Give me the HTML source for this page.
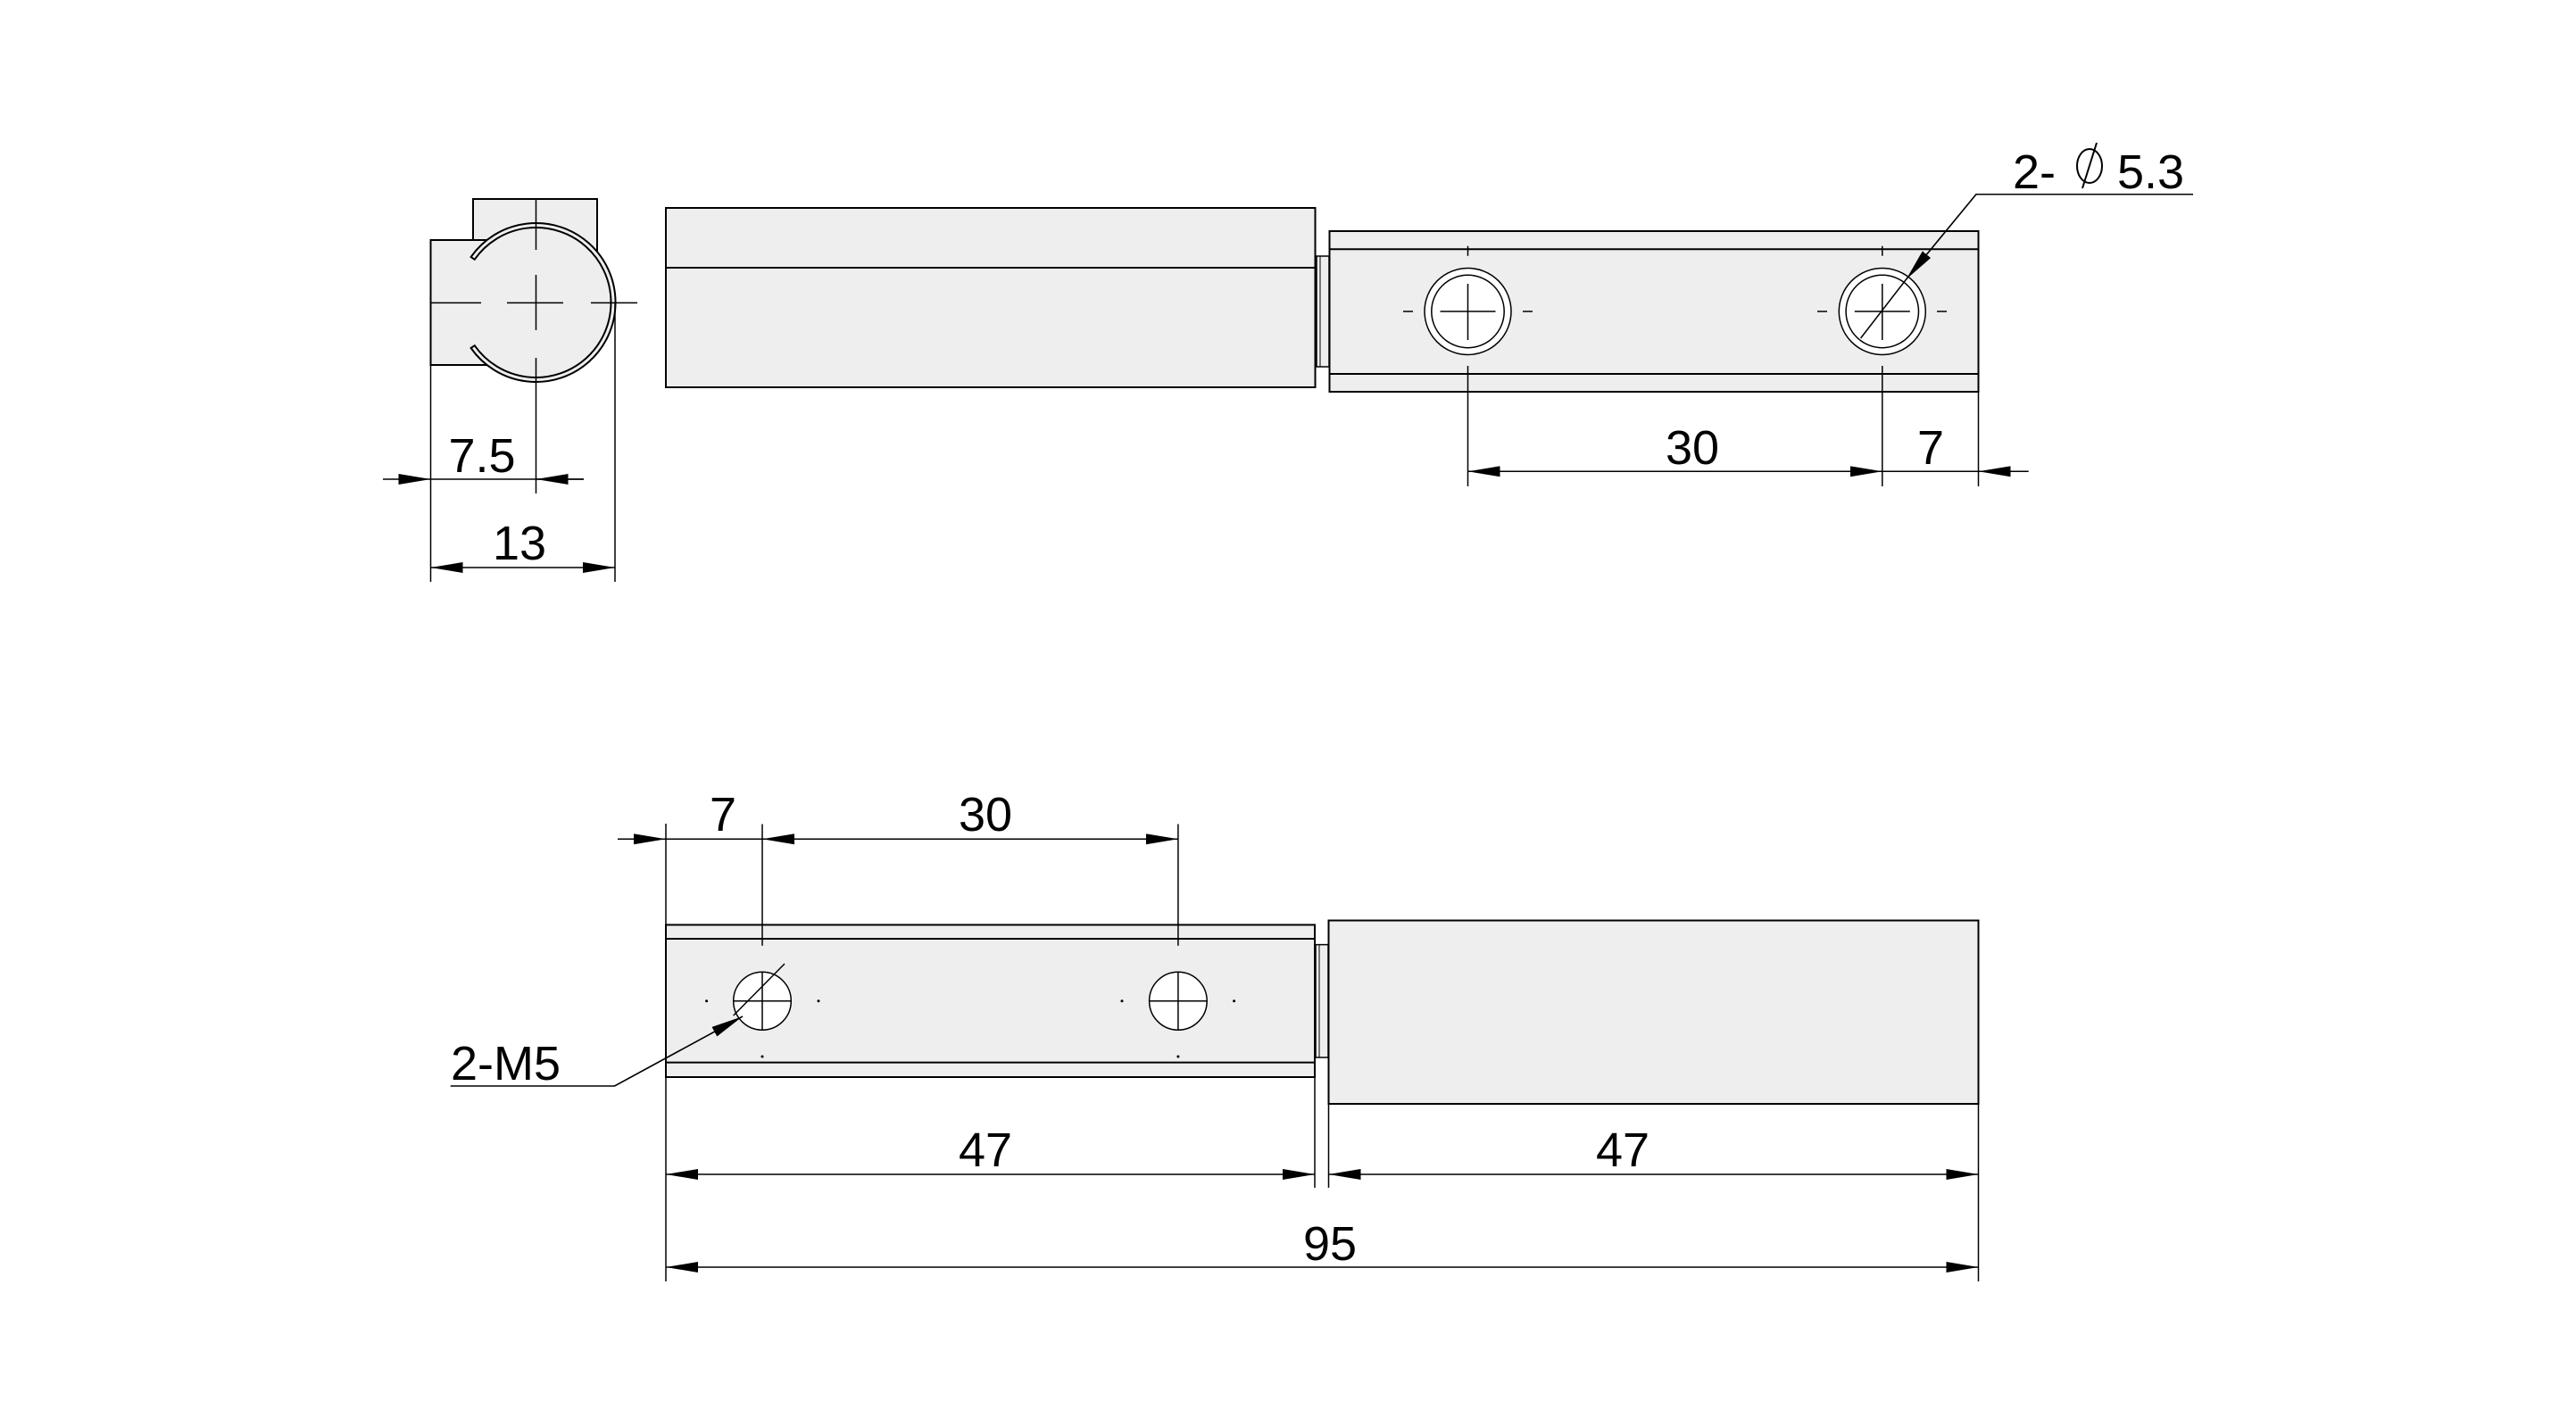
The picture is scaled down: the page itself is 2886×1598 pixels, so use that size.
<!DOCTYPE html>
<html><head><meta charset="utf-8"><style>
html,body{margin:0;padding:0;background:#fff;}
svg{display:block;}
text{font-family:"Liberation Sans",sans-serif;font-size:54px;fill:#000;}
</style></head><body>
<svg width="2886" height="1598" viewBox="0 0 2886 1598" xmlns="http://www.w3.org/2000/svg">
<defs>
<marker id="a" viewBox="0 0 36 12" refX="36" refY="6" markerWidth="36" markerHeight="12" markerUnits="userSpaceOnUse" orient="auto-start-reverse"><path d="M0,0 L36,6 L0,12 Z" fill="#000"/></marker>
</defs>
<g stroke="#000" stroke-width="2" fill="none">
<!-- side view -->
<rect x="530" y="223" width="139" height="120" fill="#eee"/>
<rect x="482.5" y="269" width="118" height="140" fill="#eee"/>
<circle cx="600.5" cy="339.4" r="85" fill="#eee" stroke="none"/>
<path d="M527.6,288 A89,89 0 1 1 527.6,390 L531.7,387.2 A84,84 0 1 0 531.7,290.8 Z" fill="#eee" stroke-width="2"/>
<g stroke-width="1.5">
<path d="M600.5,223 V280 M600.5,308 V370 M600.5,401 V553"/>
<path d="M482,339.4 H539 M568,339.4 H631 M662,339.4 H714"/>
<path d="M689,339 V652 M482.5,409 V652"/>
</g>
<!-- dim 7.5 -->
<line x1="429" y1="537" x2="482.5" y2="537" stroke-width="1.5" marker-end="url(#a)"/>
<line x1="482.5" y1="537" x2="654" y2="537" stroke-width="1.5"/>
<line x1="654" y1="537" x2="600.5" y2="537" stroke-width="1.5" marker-end="url(#a)"/>
<!-- dim 13 -->
<line x1="482.5" y1="636" x2="689" y2="636" stroke-width="1.5" marker-start="url(#a)" marker-end="url(#a)"/>

<!-- top view main -->
<rect x="746" y="233" width="727.5" height="201" fill="#eee"/>
<line x1="746" y1="300" x2="1473.5" y2="300"/>
<rect x="1475" y="287" width="14" height="124" fill="#eee" stroke-width="1.5"/>
<line x1="1479" y1="287" x2="1479" y2="411" stroke-width="1"/>
<rect x="1489.5" y="259" width="727" height="180" fill="#eee"/>
<line x1="1489.5" y1="279.3" x2="2216.5" y2="279.3"/>
<line x1="1489.5" y1="419" x2="2216.5" y2="419"/>
<g stroke-width="1.5">
<circle cx="1644.5" cy="349" r="48.5" fill="#fff"/><circle cx="1644.5" cy="349" r="40.7"/>
<path d="M1613.5,349 H1675.5 M1644.5,318 V381 M1572,349 H1583 M1706,349 H1717 M1644.5,275.7 V286.7 M1644.5,410 V545"/>
<circle cx="2108.8" cy="349" r="48.5" fill="#fff"/><circle cx="2108.8" cy="349" r="40.7"/>
<path d="M2077.8,349 H2139.8 M2108.8,318 V381 M2036,349 H2047 M2170,349 H2181 M2108.8,275.7 V286.7 M2108.8,410 V545 M2216.5,439 V545"/>
<path d="M2084.6,379 L2135.6,313 L2214,217.7 H2457"/>
</g>
<line x1="2214" y1="217.7" x2="2135.6" y2="313" stroke-width="1.5" marker-end="url(#a)"/>
<!-- dims 30/7 top -->
<line x1="1644.5" y1="528.3" x2="2108.8" y2="528.3" stroke-width="1.5" marker-start="url(#a)" marker-end="url(#a)"/>
<line x1="2108.8" y1="528.3" x2="2216.5" y2="528.3" stroke-width="1.5"/>
<line x1="2272.7" y1="528.3" x2="2216.5" y2="528.3" stroke-width="1.5" marker-end="url(#a)"/>

<!-- bottom view -->
<rect x="746" y="1036.4" width="727" height="170.6" fill="#eee"/>
<line x1="746" y1="1052" x2="1473" y2="1052"/>
<line x1="746" y1="1190.6" x2="1473" y2="1190.6"/>
<rect x="1474" y="1058.6" width="14" height="126.4" fill="#eee" stroke-width="1.5"/>
<line x1="1478" y1="1058.6" x2="1478" y2="1185" stroke-width="1"/>
<rect x="1488.5" y="1031.5" width="728" height="205.5" fill="#eee"/>
<g stroke-width="1.5">
<ellipse cx="854" cy="1121.7" rx="32.3" ry="32.5" fill="#fff"/>
<path d="M821.7,1121.7 H886.3 M854,1089 V1154 M854,923.5 V1059.7"/>
<ellipse cx="1319.9" cy="1121.7" rx="32.3" ry="32.5" fill="#fff"/>
<path d="M1287.6,1121.7 H1352.2 M1319.9,1089 V1154 M1319.9,923.5 V1059.7"/>
<path d="M821.7,1138 L879,1080"/>
<path d="M746,923 V1436 M1473,1207 V1331 M1488.5,1237 V1331 M2216.5,1237 V1436"/>
<path d="M504.7,1217 H688.5 L832,1139"/>
</g>
<g fill="#000" stroke="none">
<circle cx="791.6" cy="1121.7" r="1.5"/><circle cx="917" cy="1121.7" r="1.5"/><circle cx="854" cy="1184" r="1.5"/>
<circle cx="1257" cy="1121.7" r="1.5"/><circle cx="1382.6" cy="1121.7" r="1.5"/><circle cx="1319.9" cy="1184" r="1.5"/>
</g>
<line x1="688.5" y1="1217" x2="832" y2="1139" stroke-width="1.5" marker-end="url(#a)"/>
<line x1="692" y1="940.3" x2="746" y2="940.3" stroke-width="1.5" marker-end="url(#a)"/>
<line x1="746" y1="940.3" x2="854" y2="940.3" stroke-width="1.5"/>
<line x1="854" y1="940.3" x2="1319.9" y2="940.3" stroke-width="1.5" marker-start="url(#a)" marker-end="url(#a)"/>
<line x1="746" y1="1316" x2="1473" y2="1316" stroke-width="1.5" marker-start="url(#a)" marker-end="url(#a)"/>
<line x1="1488.5" y1="1316" x2="2216.5" y2="1316" stroke-width="1.5" marker-start="url(#a)" marker-end="url(#a)"/>
<line x1="746" y1="1420" x2="2216.5" y2="1420" stroke-width="1.5" marker-start="url(#a)" marker-end="url(#a)"/>
</g>
<g text-anchor="middle">
<text x="540" y="529">7.5</text>
<text x="582" y="627">13</text>
<text x="1896" y="520">30</text>
<text x="2163" y="520">7</text>
<text x="810" y="931">7</text>
<text x="1104" y="931">30</text>
<text x="1104" y="1307">47</text>
<text x="1818" y="1307">47</text>
<text x="1490" y="1412">95</text>
</g>
<text x="505" y="1210">2-M5</text>
<text x="2255" y="211">2-</text>
<text x="2372" y="211">5.3</text>
<g stroke="#000" stroke-width="2" fill="none">
<ellipse cx="2341" cy="186" rx="14" ry="19"/>
<line x1="2333" y1="211" x2="2349" y2="160"/>
</g>
</svg>
</body></html>
